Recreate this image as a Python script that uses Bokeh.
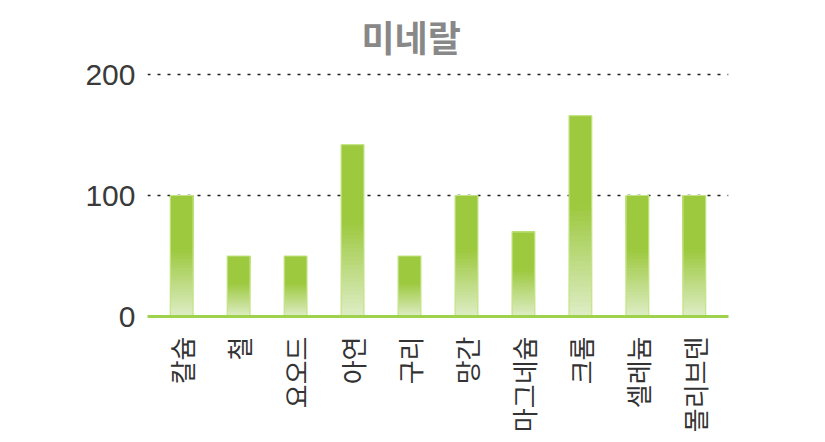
import math
from bokeh.plotting import figure
from bokeh.models import Range1d, FixedTicker, Title
from bokeh.embed import file_html
from bokeh.resources import INLINE

categories = ["칼슘", "철", "요오드", "아연", "구리", "망간", "마그네슘", "크롬", "셀레늄", "몰리브덴"]
values = [100, 50, 50, 142, 50, 100, 70, 166, 100, 100]
y_ticks = [0, 100, 200]
title_text = "미네랄"

DARK = (157, 201, 63)
LIGHT = (222, 237, 198)

def mix(t):
    t = max(0.0, min(1.0, t))
    return "#%02x%02x%02x" % tuple(int(round(LIGHT[i] + (DARK[i] - LIGHT[i]) * t)) for i in range(3))

W, H = 825, 442
p = figure(width=W, height=H, output_backend="svg", toolbar_location=None,
           x_range=Range1d(-0.6, len(categories) - 0.4), y_range=Range1d(0, 205),
           min_border_left=147, min_border_right=97, min_border_top=68, min_border_bottom=126)
p.title = Title(text=title_text, align="left", text_font="Noto Sans CJK KR",
                text_font_size="36px", text_font_style="bold", text_color="#888888",
                standoff=13, offset=214)
p.outline_line_color = None
p.background_fill_color = None
p.border_fill_color = None

# gradient bars built from overlapping stacked slices (drawn bottom to top)
N = 40
xs, bots, tops, cols = [], [], [], []
for k in range(N):
    for i, v in enumerate(values):
        xs.append(i)
        bots.append(v * k / N)
        tops.append(v)
        cols.append(mix(((k + 0.5) / N) / 0.55))
p.vbar(x=xs, bottom=bots, top=tops, width=0.4, fill_color=cols, line_color=None)
p.vbar(x=list(range(len(values))), bottom=0, top=values, width=0.4,
       fill_color=None, line_color="#c4e486", line_width=1.2)

# axes
p.xaxis.ticker = FixedTicker(ticks=list(range(len(categories))))
p.xaxis.major_label_overrides = {i: c for i, c in enumerate(categories)}
p.xaxis.major_label_orientation = math.pi / 2
p.xaxis.major_tick_line_color = None
p.xaxis.minor_tick_line_color = None
p.xaxis.axis_line_color = "#9fd24c"
p.xaxis.axis_line_width = 3
p.xaxis.major_label_text_font = "Noto Sans CJK KR"
p.xaxis.major_label_text_font_size = "26px"
p.xaxis.major_label_text_color = "#333333"
p.xaxis.major_label_standoff = 14

p.yaxis.ticker = FixedTicker(ticks=y_ticks)
p.yaxis.axis_line_color = None
p.yaxis.major_tick_line_color = None
p.yaxis.minor_tick_line_color = None
p.yaxis.major_label_text_font = "Liberation Sans"
p.yaxis.major_label_text_font_size = "30px"
p.yaxis.major_label_text_color = "#3a3a3a"
p.yaxis.major_label_standoff = 6

p.xgrid.grid_line_color = None
p.ygrid.ticker = FixedTicker(ticks=[100, 200])
p.ygrid.grid_line_color = "#222222"
p.ygrid.grid_line_dash = "3 7"
p.ygrid.grid_line_width = 1.5

open("out.html", "w").write(file_html(p, INLINE))
